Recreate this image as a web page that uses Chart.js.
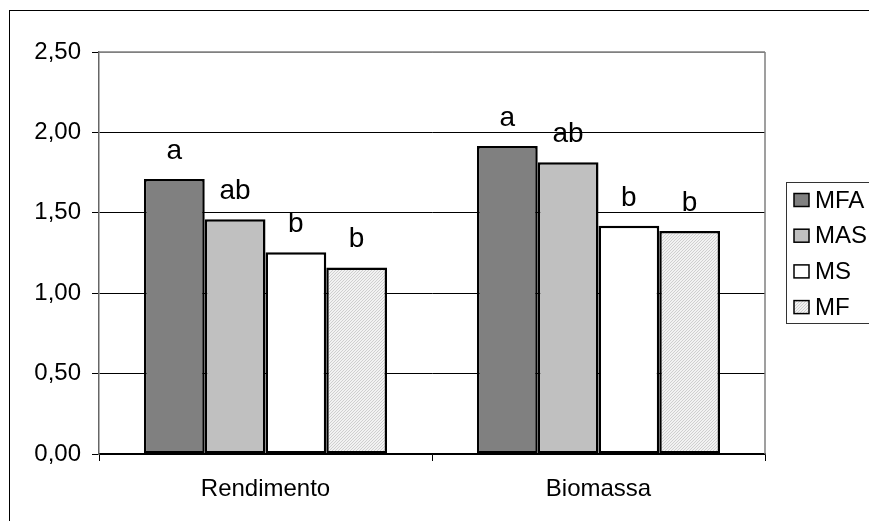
<!DOCTYPE html>
<html>
<head>
<meta charset="utf-8">
<script src="https://cdn.jsdelivr.net/npm/chart.js@4/dist/chart.umd.min.js"></script>
<style>
  html, body { margin: 0; padding: 0; background: #fff; overflow: hidden; }
  #wrap { position: relative; width: 869px; height: 521px; overflow: hidden; }
  #frame { position: absolute; left: 9px; top: 10px; width: 1000px; height: 1000px; border: 1px solid #000; }
  #c { position: absolute; left: 0; top: 0; }
</style>
</head>
<body>
<div id="wrap">
  <div id="frame"></div>
  <canvas id="c" width="869" height="521"></canvas>
</div>
<script>
// ---- Data ----
const categories = ['Rendimento', 'Biomassa'];
const seriesNames = ['MFA', 'MAS', 'MS', 'MF'];
const valuesMFA = [1.71, 1.915];
const valuesMAS = [1.46, 1.815];
const valuesMS  = [1.255, 1.42];
const valuesMF  = [1.16, 1.387];
const lettersMFA = ['a', 'a'];
const lettersMAS = ['ab', 'ab'];
const lettersMS  = ['b', 'b'];
const lettersMF  = ['b', 'b'];
const yTickValues = [0, 0.5, 1, 1.5, 2, 2.5];
const yTickLabels = ['0,00', '0,50', '1,00', '1,50', '2,00', '2,50'];

const FONT = '"Liberation Sans", Arial, Helvetica, sans-serif';
const FS = 24;
const FS_LETTER = 28;

// hatched pattern for MF
function makeHatch() {
  const p = document.createElement('canvas');
  p.width = 3; p.height = 3;
  const g = p.getContext('2d');
  g.fillStyle = '#f2f2f2';
  g.fillRect(0, 0, 3, 3);
  g.fillStyle = '#cfcfcf';
  for (let i = 0; i < 3; i++) g.fillRect(2 - i, i, 1, 1);
  return g.createPattern(p, 'repeat');
}
const ctx = document.getElementById('c').getContext('2d');
const hatch = makeHatch();

const seriesValues = [valuesMFA, valuesMAS, valuesMS, valuesMF];
const seriesLetters = [lettersMFA, lettersMAS, lettersMS, lettersMF];
const seriesColors = ['#808080', '#c0c0c0', '#ffffff', hatch];

const datasets = seriesNames.map((n, i) => ({
  label: n,
  data: seriesValues[i],
  letters: seriesLetters[i],
  backgroundColor: seriesColors[i],
  borderColor: '#000',
  borderWidth: 2.5,
  borderSkipped: false,
  categoryPercentage: 0.73,
  barPercentage: 1.0
}));

const decorPlugin = {
  id: 'decor',
  beforeDatasetsDraw(chart) {
    const a = chart.chartArea, c = chart.ctx;
    c.save();
    c.strokeStyle = '#808080';
    c.lineWidth = 1.5;
    c.beginPath();
    c.moveTo(a.left, a.top); c.lineTo(a.right, a.top);
    c.moveTo(a.right, a.top); c.lineTo(a.right, a.bottom);
    c.stroke();
    c.restore();
  },
  afterDatasetsDraw(chart) {
    const c = chart.ctx;
    c.save();
    c.font = FS_LETTER + 'px ' + FONT;
    c.fillStyle = '#000';
    c.textAlign = 'center';
    c.textBaseline = 'alphabetic';
    chart.data.datasets.forEach((ds, i) => {
      const meta = chart.getDatasetMeta(i);
      meta.data.forEach((bar, j) => {
        c.fillText(ds.letters[j], bar.x, bar.y - 20);
      });
    });
    // legend
    c.font = FS + 'px ' + FONT;
    const lx = 786.5, ly = 182.5;
    c.strokeStyle = '#333';
    c.lineWidth = 1;
    c.strokeRect(lx, ly, 200, 141);
    c.textAlign = 'left';
    c.textBaseline = 'middle';
    chart.data.datasets.forEach((ds, i) => {
      const cy = 200 + i * 35.7;
      c.fillStyle = ds.backgroundColor;
      c.fillRect(794, cy - 6.5, 15, 13);
      c.strokeStyle = '#000';
      c.lineWidth = 1.5;
      c.strokeRect(794, cy - 6.5, 15, 13);
      c.fillStyle = '#000';
      c.fillText(ds.label, 815, cy + 1);
    });
    c.restore();
  }
};

new Chart(ctx, {
  type: 'bar',
  data: { labels: categories, datasets },
  plugins: [decorPlugin],
  options: {
    responsive: false,
    animation: false,
    layout: { padding: { left: 0, top: 52, right: 104, bottom: 0 } },
    plugins: { legend: { display: false }, tooltip: { enabled: false } },
    scales: {
      x: {
        offset: true,
        grid: { offset: true, drawOnChartArea: false, color: '#000', tickLength: 7, lineWidth: 1 },
        border: { color: '#000', width: 1.5 },
        ticks: { color: '#000', font: { family: FONT, size: FS }, padding: 14, maxRotation: 0 },
        afterFit(s) { s.height = 67; }
      },
      y: {
        min: 0, max: 2.5,
        afterBuildTicks(s) { s.ticks = yTickValues.map(v => ({ value: v })); },
        grid: {
          color: (ctx) => (ctx.tick && ctx.tick.value === 2.5 ? '#808080' : '#000'),
          tickColor: '#000',
          tickLength: 7,
          lineWidth: 1
        },
        border: { color: '#666', width: 1.5 },
        ticks: {
          color: '#000',
          font: { family: FONT, size: FS },
          padding: 11,
          callback: (v) => yTickLabels[yTickValues.indexOf(v)]
        },
        afterFit(s) { s.width = 99; }
      }
    }
  }
});
</script>
</body>
</html>
